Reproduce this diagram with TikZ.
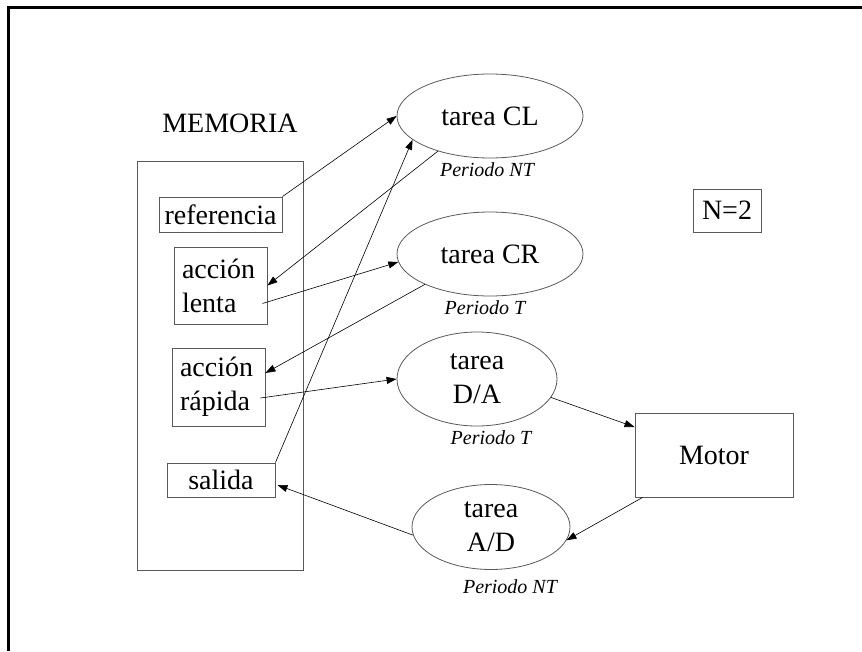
\documentclass[tikz,border=0pt]{standalone}
\usepackage{fontspec}
\setmainfont{Liberation Serif}
\usetikzlibrary{shapes.geometric,arrows.meta}

\tikzset{
    memo/.style={draw=black!65, line width=0.9pt, inner sep=0pt},
    tarea/.style={ellipse, draw=black!65, line width=0.8pt, inner sep=0pt, align=center},
    periodo/.style={font=\fontsize{20}{23}\selectfont\itshape},
    flecha/.style={-{Triangle[length=10pt,width=7pt]}, line width=0.6pt},
}

\begin{document}
\begin{tikzpicture}[x=1pt, y=-1pt, font=\fontsize{28}{34}\selectfont]
    \useasboundingbox (0,0) rectangle (862,651);
    \draw [line width=3pt] (8.5,651) -- (8.5,7.5) -- (862,7.5);

    % memoria
    \node (memtit) at (230,123) {MEMORIA};
    \draw [memo] (137,161) rectangle (303,570);
    \node [memo, minimum width=123, minimum height=35] (ref) at (220.5,214.5) {referencia};
    \node [memo, text width=77, inner xsep=8, minimum height=77, align=left] (lenta) at (220.5,285.5) {acción\\lenta};
    \node [memo, text width=77, inner xsep=8, minimum height=78, align=left] (rapida) at (218.5,387) {acción\\rápida};
    \node [memo, minimum width=108, minimum height=34] (salida) at (221,480) {salida};

    % tareas
    \foreach \x/\y/\w/\h/\txt/\name in {
        490/116/186/84/{tarea CL}/cl,
        490/254/186/84/{tarea CR}/cr,
        477/379/160/94/{tarea\\D/A}/da,
        491/527/158/85/{tarea\\A/D}/ad} {
        \node [tarea, minimum width=\w, minimum height=\h] (\name) at (\x, \y) {\txt};
    }
    \foreach \x/\y/\txt/\name in {
        487/170/NT/pcl, 485/308/T/pcr, 491/438/T/pda, 510/587/NT/pad} {
        \node [periodo] (\name) at (\x, \y) {Periodo \txt};
    }

    \node [memo, minimum width=158, minimum height=84] (motor) at (714,455) {Motor};
    \node [memo, minimum width=68, minimum height=43] (n) at (727,210.5) {N=2};

    \draw [flecha] (ref.north east) -- (cl.west);
    \draw [flecha] (cl.-146) -- (lenta.east);
    \draw [flecha] ([xshift=-5pt,yshift=-18pt]lenta.east) -- (cr.185);
    \draw [flecha] (cr.-155) -- ([yshift=14pt]rapida.east);
    \draw [flecha] ([xshift=-5pt,yshift=-11pt]rapida.east) -- (da.west);
    \draw [flecha] (salida.north east) -- (cl.-163);
    \draw [flecha] (ad.186) -- ([xshift=2pt,yshift=-5pt]salida.east);
    \draw [flecha] (da.-14) -- ([yshift=28pt]motor.west);
    \draw [flecha] ([xshift=8pt]motor.south west) -- (ad.-10.5);
\end{tikzpicture}
\end{document}
